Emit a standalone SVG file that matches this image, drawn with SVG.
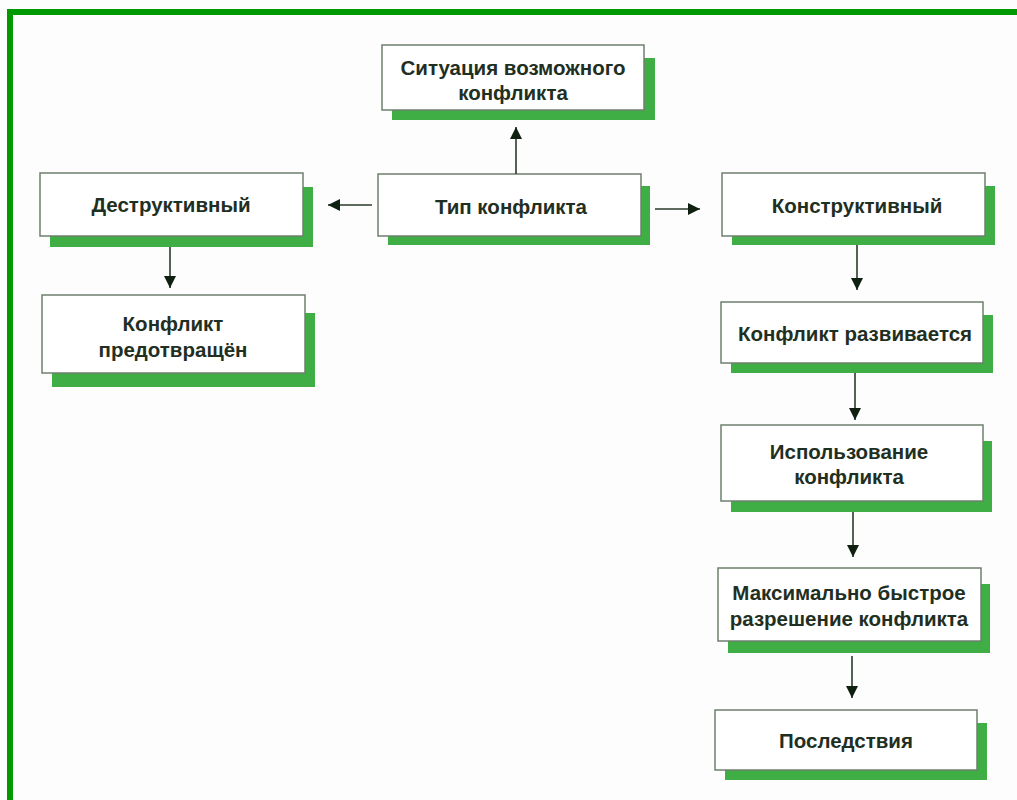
<svg xmlns="http://www.w3.org/2000/svg" width="1017" height="800" viewBox="0 0 1017 800">
<defs>
<style>
.sh{fill:#3fae45}
.bx{fill:#ffffff;stroke:#6f7f6f;stroke-width:1.5}
.t{font-family:"Liberation Sans",Arial,sans-serif;font-size:20.5px;font-weight:bold;fill:#1f2f22;text-anchor:middle}
.c{stroke:#2a3a2a;stroke-width:1.6;fill:none}
</style>
<marker id="ah" viewBox="0 0 10 10" refX="10" refY="5" markerWidth="14" markerHeight="12" markerUnits="userSpaceOnUse" orient="auto">
<path d="M0,0 L10,5 L0,10 Z" fill="#102010"/>
</marker>
</defs>
<rect width="1017" height="800" fill="#fdfdfd"/>
<path d="M10,800 L10,12 L1017,12" fill="none" stroke="#009a00" stroke-width="6"/>

<g id="n-situation">
<rect class="sh" x="392" y="58" width="263" height="62"/>
<rect class="bx" x="382" y="45" width="262" height="65"/>
<text class="t" x="513" y="75">Ситуация возможного</text>
<text class="t" x="513" y="100">конфликта</text>
</g>
<g id="n-type">
<rect class="sh" x="388" y="186" width="262" height="59"/>
<rect class="bx" x="378" y="174" width="263" height="62"/>
<text class="t" x="511" y="214">Тип конфликта</text>
</g>
<g id="n-destr">
<rect class="sh" x="50" y="187" width="263" height="60"/>
<rect class="bx" x="40" y="173" width="263" height="63"/>
<text class="t" x="171" y="212">Деструктивный</text>
</g>
<g id="n-prevented">
<rect class="sh" x="52" y="313" width="263" height="74"/>
<rect class="bx" x="42" y="295" width="263" height="78"/>
<text class="t" x="173" y="331">Конфликт</text>
<text class="t" x="173" y="357">предотвращён</text>
</g>
<g id="n-constr">
<rect class="sh" x="732" y="186" width="263" height="59"/>
<rect class="bx" x="722" y="173" width="263" height="63"/>
<text class="t" x="857" y="213">Конструктивный</text>
</g>
<g id="n-develops">
<rect class="sh" x="731" y="315" width="262" height="58"/>
<rect class="bx" x="721" y="302" width="262" height="61"/>
<text class="t" x="855" y="341">Конфликт развивается</text>
</g>
<g id="n-use">
<rect class="sh" x="731" y="441" width="261" height="71"/>
<rect class="bx" x="721" y="425" width="262" height="76"/>
<text class="t" x="849" y="459">Использование</text>
<text class="t" x="849" y="484">конфликта</text>
</g>
<g id="n-resolve">
<rect class="sh" x="728" y="584" width="262" height="69"/>
<rect class="bx" x="718" y="568" width="263" height="73"/>
<text class="t" x="849" y="600">Максимально быстрое</text>
<text class="t" x="849" y="626">разрешение конфликта</text>
</g>
<g id="n-conseq">
<rect class="sh" x="725" y="723" width="262" height="57"/>
<rect class="bx" x="715" y="710" width="262" height="60"/>
<text class="t" x="846" y="748">Последствия</text>
</g>

<g id="connectors">
<line class="c" x1="516" y1="174" x2="516" y2="127" marker-end="url(#ah)"/>
<line class="c" x1="372" y1="205" x2="328" y2="205" marker-end="url(#ah)"/>
<line class="c" x1="655" y1="209" x2="700" y2="209" marker-end="url(#ah)"/>
<line class="c" x1="170" y1="247" x2="170" y2="288" marker-end="url(#ah)"/>
<line class="c" x1="857" y1="245" x2="857" y2="290" marker-end="url(#ah)"/>
<line class="c" x1="855" y1="373" x2="855" y2="420" marker-end="url(#ah)"/>
<line class="c" x1="853" y1="512" x2="853" y2="557" marker-end="url(#ah)"/>
<line class="c" x1="852" y1="656" x2="852" y2="698" marker-end="url(#ah)"/>
</g>
</svg>
